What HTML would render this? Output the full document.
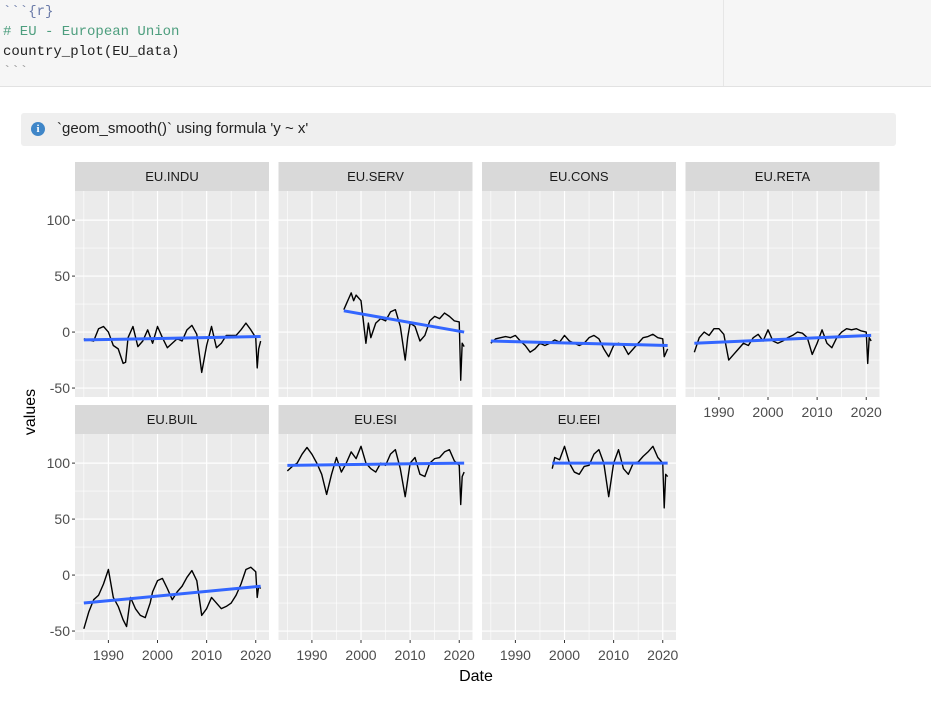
<!DOCTYPE html>
<html><head><meta charset="utf-8"><style>
html,body{margin:0;padding:0}
body{width:931px;height:703px;background:#fff;overflow:hidden;font-family:"Liberation Sans",sans-serif;position:relative}
#code{position:absolute;left:0;top:0;width:931px;height:86px;background:#f6f6f6;border-bottom:1px solid #e2e2e2;z-index:2}
#code .dv{position:absolute;left:723px;top:0;width:1px;height:86px;background:#e6e6e6}
#code .ln{position:absolute;left:3px;font-family:"Liberation Mono",monospace;font-size:14px;line-height:20px;color:#222;white-space:pre}
#msg{position:absolute;left:21px;top:113px;width:875px;height:33px;background:#efefef;border-radius:3px;font-size:15px;color:#222;z-index:2}
#msg .ic{position:absolute;left:10px;top:9px;width:14px;height:14px;border-radius:7px;background:#3f86c8;color:#fff;font-size:11px;font-weight:bold;text-align:center;line-height:14px;font-family:"Liberation Serif",serif}
#msg .t{position:absolute;left:36px;top:7px;white-space:pre}
#chart{position:absolute;left:0;top:0;z-index:1}
</style></head><body>
<div id="code"><div class="dv"></div>
<div class="ln" style="top:2px;color:#6a7aa8">&#96;&#96;&#96;{r}</div>
<div class="ln" style="top:22px;color:#4d9e7e"># EU - European Union</div>
<div class="ln" style="top:42px">country_plot(EU_data)</div>
<div class="ln" style="top:62px;color:#999">&#96;&#96;&#96;</div></div>
<div id="msg"><div class="ic">i</div><div class="t">&#96;geom_smooth()&#96; using formula 'y ~ x'</div></div>
<svg id="chart" xmlns="http://www.w3.org/2000/svg" width="931" height="703" viewBox="0 0 931 703"></svg>
<script>
const panelNames=["EU.INDU","EU.SERV","EU.CONS","EU.RETA","EU.BUIL","EU.ESI","EU.EEI"];
const yTicks=[-50,0,50,100];
const xTicks=[1990,2000,2010,2020];
const yrsINDU=[1985,1986,1987,1988,1989,1990,1991,1992,1993,1993.5,1994,1995,1996,1997,1998,1999,2000,2001,2002,2003,2004,2005,2006,2007,2008,2009,2010,2011,2012,2013,2014,2015,2016,2017,2018,2019,2020,2020.3,2020.6,2021];
const valINDU=[-6,-7,-8,3,5,0,-12,-15,-28,-27,-5,5,-13,-8,2,-10,5,-5,-14,-10,-6,-8,2,6,-2,-36,-12,5,-14,-10,-3,-3,-3,2,8,2,-5,-32,-15,-8];
const yrsSERV=[1996.5,1997,1998,1998.5,1999,2000,2001,2001.5,2002,2003,2004,2005,2006,2007,2008,2009,2009.5,2010,2011,2012,2013,2014,2015,2016,2017,2018,2019,2020,2020.3,2020.6,2021];
const valSERV=[20,25,35,28,33,28,-10,8,-5,8,12,10,18,20,5,-25,-5,8,5,-8,-3,10,14,12,17,14,10,9,-43,-10,-13];
const yrsCONS=[1985,1986,1987,1988,1989,1990,1991,1992,1993,1994,1995,1996,1997,1998,1999,2000,2001,2002,2003,2004,2005,2006,2007,2008,2009,2010,2011,2012,2013,2014,2015,2016,2017,2018,2019,2020,2020.3,2021];
const valCONS=[-10,-6,-5,-4,-5,-3,-8,-12,-18,-15,-10,-12,-10,-7,-9,-3,-8,-10,-12,-10,-5,-3,-6,-15,-22,-12,-10,-12,-20,-15,-10,-5,-4,-2,-5,-6,-22,-15];
const yrsRETA=[1985,1986,1987,1988,1989,1990,1991,1992,1993,1994,1995,1996,1997,1998,1999,2000,2001,2002,2003,2004,2005,2006,2007,2008,2009,2010,2011,2012,2013,2014,2015,2016,2017,2018,2019,2020,2020.3,2020.6,2021];
const valRETA=[-18,-5,0,-3,3,3,-2,-25,-20,-15,-10,-12,-5,-2,-8,2,-8,-10,-8,-5,-3,0,-1,-5,-20,-10,2,-10,-14,-5,0,3,2,3,1,0,-28,-5,-8];
const yrsBUIL=[1985,1986,1987,1988,1989,1990,1991,1992,1993,1993.7,1994.5,1995.5,1996.5,1997.5,1998.5,1999,2000,2001,2002,2003,2004,2005,2006,2007,2008,2009,2010,2011,2012,2013,2014,2015,2016,2017,2018,2019,2020,2020.3,2020.6,2021];
const valBUIL=[-48,-33,-22,-18,-8,5,-20,-28,-40,-46,-20,-30,-36,-38,-25,-15,-5,-3,-12,-22,-15,-10,-2,4,-5,-36,-30,-20,-25,-30,-28,-25,-18,-8,5,7,3,-20,-10,-12];
const yrsESI=[1985,1986,1987,1988,1989,1990,1991,1992,1993,1994,1995,1996,1997,1998,1999,2000,2001,2002,2003,2004,2005,2006,2007,2008,2009,2010,2011,2012,2013,2014,2015,2016,2017,2018,2019,2020,2020.3,2020.6,2021];
const valESI=[93,97,100,108,114,108,100,90,72,90,105,92,100,110,104,115,100,95,92,100,98,108,112,95,70,100,105,90,88,100,104,105,110,112,102,98,63,88,92];
const yrsEEI=[1997.5,1998,1999,2000,2001,2002,2003,2004,2005,2006,2007,2008,2009,2010,2011,2012,2013,2014,2015,2016,2017,2018,2019,2020,2020.3,2020.6,2021];
const valEEI=[95,105,103,115,100,92,90,97,98,108,112,100,70,100,112,95,90,100,101,106,110,115,105,100,60,90,88];
const fitStart=[-7,19,-8,-10,-25,98,100];
const fitEnd=[-4,0,-12,-3,-10,100,100];
const series=[[yrsINDU,valINDU],[yrsSERV,valSERV],[yrsCONS,valCONS],[yrsRETA,valRETA],[yrsBUIL,valBUIL],[yrsESI,valESI],[yrsEEI,valEEI]];

var svg=document.getElementById('chart');var NS='http://www.w3.org/2000/svg';
function mk(t,a,p){var e=document.createElementNS(NS,t);for(var k in a){e.setAttribute(k,String(a[k]));}(p||svg).appendChild(e);return e;}
var colX=[75,278.5,482,685.5],PW=194,rowY=[191,434],PH=206,stripH=29;
var XMIN=1983.2,XMAX=2022.7,YMIN=-58,YMAX=126;
for(var i=0;i<panelNames.length;i++){
  var name=panelNames[i];
  var r=Math.floor(i/4),c=i%4,x0=colX[c],y0=rowY[r];
  var sx=(function(x0){return function(v){return x0+(v-XMIN)/(XMAX-XMIN)*PW;};})(x0);
  var sy=(function(y0){return function(v){return y0+PH-(v-YMIN)/(YMAX-YMIN)*PH;};})(y0);
  var g=mk('g',{});
  
  
  var st=mk('rect',{x:x0,y:y0-stripH,width:PW,height:stripH,fill:'#d9d9d9'},g);
  
  
  var stt=mk('text',{x:x0+PW/2,y:y0-stripH/2+4.5,'text-anchor':'middle','font-size':'13','font-family':'Liberation Sans, sans-serif',fill:'#1a1a1a'},g);
  stt.textContent=name;
  
  
  var bg=mk('rect',{x:x0,y:y0,width:PW,height:PH,fill:'#ebebeb'},g);
  
  
  for(var k=0;k<yTicks.length-1;k++){var m=(yTicks[k]+yTicks[k+1])/2;mk('line',{x1:x0,x2:x0+PW,y1:sy(m),y2:sy(m),stroke:'#fff','stroke-width':0.6},g);}
  for(var k2=0;k2<=xTicks.length;k2++){var m2=(k2<xTicks.length?xTicks[k2]:2030)-5;mk('line',{x1:sx(m2),x2:sx(m2),y1:y0,y2:y0+PH,stroke:'#fff','stroke-width':0.6},g);}
  yTicks.forEach(function(t){mk('line',{x1:x0,x2:x0+PW,y1:sy(t),y2:sy(t),stroke:'#fff','stroke-width':1.2},g);});
  xTicks.forEach(function(t){mk('line',{x1:sx(t),x2:sx(t),y1:y0,y2:y0+PH,stroke:'#fff','stroke-width':1.2},g);});
  var yr=series[i][0],vl=series[i][1];
  var pts=yr.map(function(y,k){return sx(y).toFixed(2)+','+sy(vl[k]).toFixed(2);}).join(' ');
  var pl=mk('polyline',{points:pts,fill:'none',stroke:'#000','stroke-width':1.4,'stroke-linejoin':'round'},g);
  
  
  var fl=mk('line',{x1:sx(yr[0]),x2:sx(yr[yr.length-1]),y1:sy(fitStart[i]),y2:sy(fitEnd[i]),stroke:'#3366ff','stroke-width':3},g);
  
  
  if(c===0){yTicks.forEach(function(t){mk('line',{x1:x0-3,x2:x0,y1:sy(t),y2:sy(t),stroke:'#333','stroke-width':1},g);
    var tx=mk('text',{x:x0-5,y:sy(t)+5,'text-anchor':'end','font-size':'14','font-family':'Liberation Sans, sans-serif',fill:'#4d4d4d'},g);
    tx.textContent=String(t);
    
    });}
  if(r===1||i===3){xTicks.forEach(function(t){mk('line',{x1:sx(t),x2:sx(t),y1:y0+PH,y2:y0+PH+3,stroke:'#333','stroke-width':1},g);
    var tx=mk('text',{x:sx(t),y:y0+PH+20,'text-anchor':'middle','font-size':'14','font-family':'Liberation Sans, sans-serif',fill:'#4d4d4d'},g);
    tx.textContent=String(t);
    
    });}
}
var xt=mk('text',{x:476,y:681,'text-anchor':'middle','font-size':'16','font-family':'Liberation Sans, sans-serif',fill:'#000'});
xt.textContent='Date';


var yt=mk('text',{x:0,y:0,'text-anchor':'middle','font-size':'16','font-family':'Liberation Sans, sans-serif',fill:'#000',transform:'translate(35,412) rotate(-90)'});
yt.textContent='values';


</script>
</body></html>
